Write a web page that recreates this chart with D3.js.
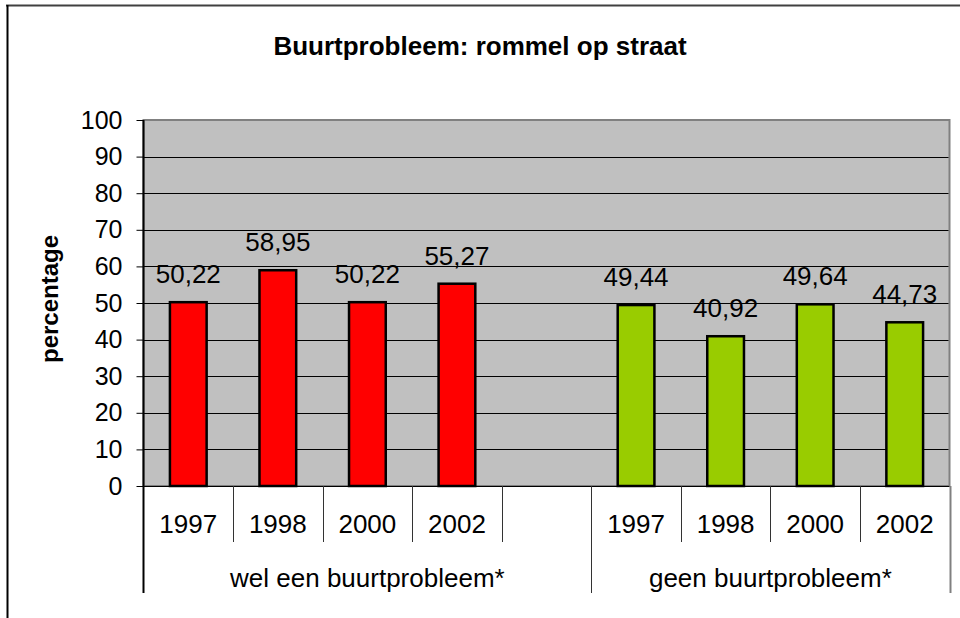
<!DOCTYPE html>
<html>
<head>
<meta charset="utf-8">
<script src="https://cdn.jsdelivr.net/npm/d3@7"></script>
<style>
  body { margin: 0; background: #fff; }
  svg { display: block; font-family: Arial, "Liberation Sans", sans-serif; }
</style>
</head>
<body>
<svg id="chart" width="960" height="618"></svg>
<script>
const title = "Buurtprobleem: rommel op straat";
const yTitle = "percentage";
const groups = ["wel een buurtprobleem*", "geen buurtprobleem*"];
const years = ["1997", "1998", "2000", "2002"];
const welValues = [50.22, 58.95, 50.22, 55.27];
const geenValues = [49.44, 40.92, 49.64, 44.73];
const yTicks = [0, 10, 20, 30, 40, 50, 60, 70, 80, 90, 100];
const colors = ["#ff0000", "#99cc00"];

const svg = d3.select("#chart");
const plot = { left: 143.5, right: 949.5, top: 120, bottom: 486 };
const fs = 26;

// slots: 4 years, one empty slot, 4 years
const slots = [
  ...years.map(y => "wel-" + y),
  "leeg",
  ...years.map(y => "geen-" + y)
];
const bars = [
  ...years.map((y, i) => ({ slot: "wel-" + y, year: y, value: welValues[i], g: 0 })),
  ...years.map((y, i) => ({ slot: "geen-" + y, year: y, value: geenValues[i], g: 1 }))
];

const x = d3.scaleBand().domain(slots).range([plot.left, plot.right]).padding(0);
const y = d3.scaleLinear().domain([0, 100]).range([plot.bottom, plot.top]);
const barW = x.bandwidth() * 0.41;
const fmt = v => d3.format(".2f")(v).replace(".", ",");

// outer frame (top and left only)
svg.append("line").attr("x1", 6).attr("x2", 960).attr("y1", 5.5).attr("y2", 5.5)
  .attr("stroke", "#404040").attr("stroke-width", 2);
svg.append("line").attr("x1", 7.5).attr("x2", 7.5).attr("y1", 5).attr("y2", 618)
  .attr("stroke", "#000").attr("stroke-width", 2);

svg.append("text").attr("x", 480).attr("y", 55).attr("text-anchor", "middle")
  .attr("font-size", 26).attr("font-weight", "bold").text(title);

// plot area
svg.append("rect")
  .attr("x", plot.left).attr("y", plot.top)
  .attr("width", plot.right - plot.left).attr("height", plot.bottom - plot.top)
  .attr("fill", "#c0c0c0").attr("stroke", "#808080").attr("stroke-width", 2);

// gridlines
svg.append("g").selectAll("line").data(yTicks.filter(t => t > 0 && t < 100)).join("line")
  .attr("x1", plot.left).attr("x2", plot.right - 1)
  .attr("y1", d => Math.round(y(d)) + 0.5).attr("y2", d => Math.round(y(d)) + 0.5)
  .attr("stroke", "#000").attr("stroke-width", 1);

// y axis
const yAxis = svg.append("g").attr("transform", `translate(${plot.left},0)`)
  .call(d3.axisLeft(y).tickValues(yTicks).tickSize(7).tickPadding(14).tickSizeOuter(0));
yAxis.select(".domain").remove();
yAxis.selectAll("line").attr("stroke", "#000");
yAxis.selectAll("text").attr("font-size", 25).attr("fill", "#000")
  .attr("font-family", "Arial, 'Liberation Sans', sans-serif");

svg.append("text")
  .attr("transform", `translate(58,${(plot.top + plot.bottom) / 2 - 4}) rotate(-90)`)
  .attr("text-anchor", "middle").attr("font-size", 24).attr("font-weight", "bold")
  .text(yTitle);

// bars
svg.append("g").selectAll("rect").data(bars).join("rect")
  .attr("x", d => x(d.slot) + (x.bandwidth() - barW) / 2)
  .attr("y", d => y(d.value))
  .attr("width", barW)
  .attr("height", d => y(0) - y(d.value))
  .attr("fill", d => colors[d.g])
  .attr("stroke", "#000").attr("stroke-width", 2.5);

// value labels
svg.append("g").selectAll("text").data(bars).join("text")
  .attr("x", d => x(d.slot) + x.bandwidth() / 2)
  .attr("y", d => y(d.value) - 19)
  .attr("text-anchor", "middle").attr("font-size", fs)
  .text(d => fmt(d.value));

// category axis
svg.append("line").attr("x1", plot.left).attr("x2", plot.right)
  .attr("y1", plot.bottom + 0.5).attr("y2", plot.bottom + 0.5)
  .attr("stroke", "#000").attr("stroke-width", 1);
svg.append("line").attr("x1", plot.left).attr("x2", plot.left)
  .attr("y1", plot.top).attr("y2", 593)
  .attr("stroke", "#000").attr("stroke-width", 2);

const slotEdges = slots.map(s => x(s)).concat([plot.right]);
const groupEdges = [x("wel-1997"), x("geen-1997"), plot.right];
svg.append("g").selectAll("line").data(slotEdges.slice(1)).join("line")
  .attr("x1", d => Math.round(d) + 0.5).attr("x2", d => Math.round(d) + 0.5)
  .attr("y1", plot.bottom)
  .attr("y2", d => groupEdges.some(g => Math.abs(g - d) < 1) ? 593 : 542)
  .attr("stroke", (d, i) => i === slotEdges.length - 2 ? "#808080" : "#333")
  .attr("stroke-width", (d, i) => i === slotEdges.length - 2 ? 2 : 1);

svg.append("g").selectAll("text").data(bars).join("text")
  .attr("x", d => x(d.slot) + x.bandwidth() / 2)
  .attr("y", 533)
  .attr("text-anchor", "middle").attr("font-size", fs)
  .text(d => d.year);

svg.append("g").selectAll("text").data(groups).join("text")
  .attr("x", (d, i) => (groupEdges[i] + groupEdges[i + 1]) / 2)
  .attr("y", 587)
  .attr("text-anchor", "middle").attr("font-size", fs)
  .text(d => d);
</script>
</body>
</html>
